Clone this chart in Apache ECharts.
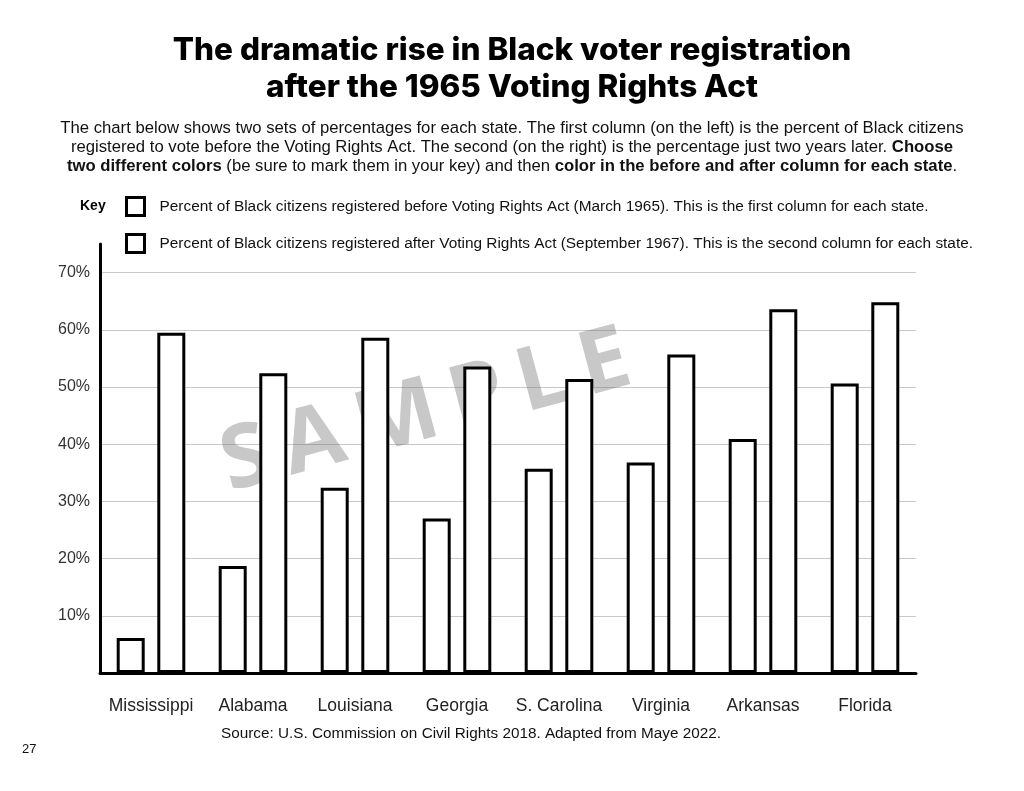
<!DOCTYPE html>
<html>
<head>
<meta charset="utf-8">
<title>Black voter registration</title>
<script src="https://cdn.jsdelivr.net/npm/echarts@6/dist/echarts.min.js"></script>
<style>
  html, body { margin: 0; padding: 0; background: #fff; }
  #chart { width: 1024px; height: 791px; }
</style>
</head>
<body>
<div id="chart"></div>
<script>
// states along the x axis
var states = ['Mississippi', 'Alabama', 'Louisiana', 'Georgia', 'S. Carolina', 'Virginia', 'Arkansas', 'Florida'];
// percent registered, March 1965 (first column)
var before1965 = [6.1, 18.7, 32.4, 27.0, 35.7, 36.8, 40.9, 50.6];
// percent registered, September 1967 (second column)
var after1967 = [59.5, 52.4, 58.6, 53.6, 51.4, 55.7, 63.6, 64.8];
// y tick labels
var yTicks = [10, 20, 30, 40, 50, 60, 70];

var beforeName = 'Percent of Black citizens registered before Voting Rights Act (March 1965). This is the first column for each state.';
var afterName = 'Percent of Black citizens registered after Voting Rights Act (September 1967). This is the second column for each state.';

var myChart = echarts.init(document.getElementById('chart'));

var barStyle = { color: '#fff', borderColor: '#000', borderWidth: 3 };
var bodyFont = '"Liberation Sans", Arial, sans-serif';

var option = {
  backgroundColor: '#fff',
  animation: false,
  title: [{
    text: 'The dramatic rise in Black voter registration\nafter the 1965 Voting Rights Act',
    left: 'center',
    top: 27,
    textStyle: {
      fontFamily: 'Inter, sans-serif',
      fontWeight: 800,
      fontSize: 31.5,
      lineHeight: 37,
      color: '#000'
    }
  }, {
    text: '{n|The chart below shows two sets of percentages for each state. The first column (on the left) is the percent of Black citizens}\n' +
          '{n|registered to vote before the Voting Rights Act. The second (on the right) is the percentage just two years later. }{b|Choose}\n' +
          '{b|two different colors}{n| (be sure to mark them in your key) and then }{b|color in the before and after column for each state}{n|.}',
    left: 'center',
    top: 114,
    textStyle: {
      fontFamily: bodyFont,
      fontWeight: 'normal',
      rich: {
        n: { fontSize: 16.7, color: '#111', lineHeight: 19, fontWeight: 'normal', fontFamily: bodyFont },
        b: { fontSize: 16.7, color: '#111', lineHeight: 19, fontWeight: 'bold', fontFamily: bodyFont }
      }
    }
  }, {
    text: 'Key',
    left: 75,
    top: 194,
    textStyle: { fontFamily: bodyFont, fontSize: 14, fontWeight: 'bold', color: '#000' }
  }, {
    text: 'Source: U.S. Commission on Civil Rights 2018. Adapted from Maye 2022.',
    left: 216,
    top: 721,
    textStyle: { fontFamily: bodyFont, fontSize: 15.3, fontWeight: 'normal', color: '#111' }
  }, {
    text: '27',
    left: 17,
    top: 738,
    textStyle: { fontFamily: bodyFont, fontSize: 13, fontWeight: 'normal', color: '#111' }
  }],
  legend: {
    orient: 'vertical',
    left: 120,
    top: 191,
    itemWidth: 18,
    itemHeight: 18,
    itemGap: 16,
    icon: 'rect',
    itemStyle: { color: '#fff', borderColor: '#000', borderWidth: 3 },
    textStyle: { fontFamily: bodyFont, fontSize: 15.4, color: '#111', padding: [0, 0, 0, 10] },
    selectedMode: false,
    data: [beforeName, afterName]
  },
  grid: { left: 100, right: 108, top: 244, bottom: 118 },
  xAxis: {
    type: 'category',
    data: states,
    axisLine: { show: true, lineStyle: { color: '#000', width: 3 } },
    axisTick: { show: false },
    axisLabel: { interval: 0, margin: 24, fontFamily: bodyFont, fontSize: 17.5, color: '#222' }
  },
  yAxis: {
    type: 'value',
    min: 0,
    max: 75,
    interval: 10,
    axisLine: { show: true, lineStyle: { color: '#000', width: 3 } },
    axisTick: { show: false },
    axisLabel: {
      margin: 10,
      fontFamily: bodyFont,
      fontSize: 16,
      color: '#333',
      formatter: function (v) { return yTicks.indexOf(v) >= 0 ? v + '%' : ''; }
    },
    splitLine: {
      show: true,
      lineStyle: {
        width: 1,
        color: ['transparent', '#c8c8c8', '#c8c8c8', '#c8c8c8', '#c8c8c8', '#c8c8c8', '#c8c8c8', '#c8c8c8', 'transparent']
      }
    }
  },
  series: [{
    name: beforeName,
    type: 'bar',
    barWidth: 28,
    barGap: '45%',
    z: 3,
    itemStyle: barStyle,
    data: before1965
  }, {
    name: afterName,
    type: 'bar',
    barWidth: 28,
    barGap: '45%',
    z: 3,
    itemStyle: barStyle,
    data: after1967
  }],
  // watermark sits behind the bars but over the grid lines
  graphic: [{
    type: 'text',
    left: 212,
    top: 316,
    rotation: 15 * Math.PI / 180,
    z: 1,
    silent: true,
    style: {
      text: 'S\u2009A\u2009M\u2009P\u2009L\u2009E',
      fontFamily: '"Open Sans", sans-serif',
      fontWeight: 'bold',
      fontSize: 88,
      fill: 'rgba(110,110,110,0.38)'
    }
  }]
};

myChart.setOption(option);
</script>
</body>
</html>
